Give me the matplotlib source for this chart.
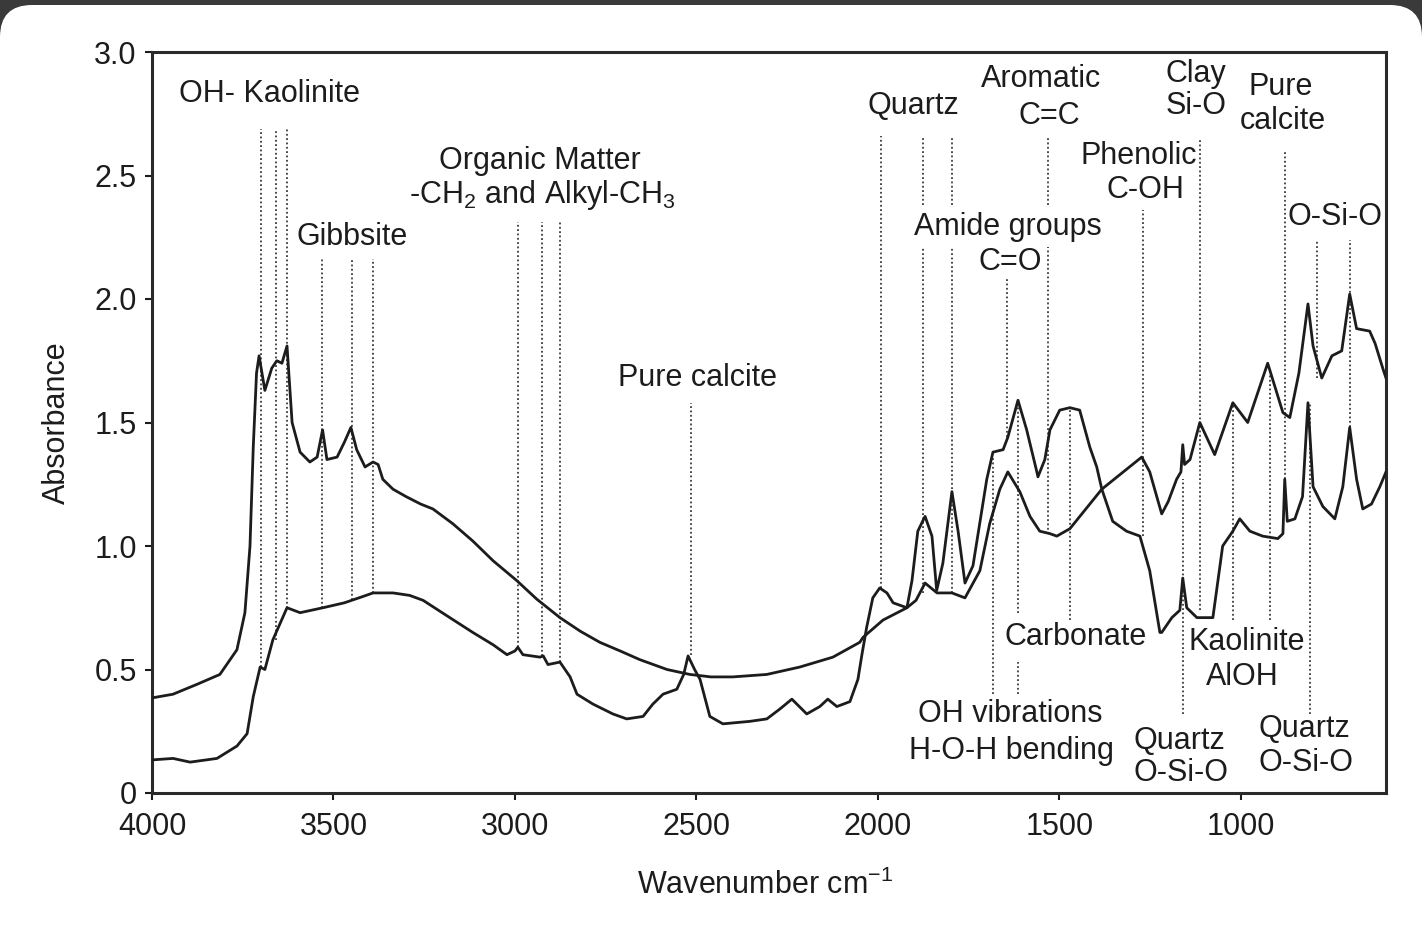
import matplotlib
matplotlib.use("Agg")
import matplotlib.pyplot as plt
from matplotlib.patches import FancyBboxPatch
from matplotlib.transforms import IdentityTransform

plt.rcParams['font.family'] = ['Liberation Sans', 'DejaVu Sans']
plt.rcParams['mathtext.fontset'] = 'custom'
plt.rcParams['mathtext.rm'] = 'Liberation Sans'
plt.rcParams['mathtext.it'] = 'Liberation Sans'
plt.rcParams['mathtext.bf'] = 'Liberation Sans'

# ---------------- data ----------------
wn_a = [4000, 3942, 3876, 3813, 3766, 3744, 3730, 3721, 3712, 3705, 3689, 3670, 3656, 3642,
        3628, 3614, 3592, 3565, 3545, 3530, 3518, 3490, 3470, 3452, 3436, 3413, 3391, 3377,
        3364, 3336, 3300, 3260, 3226, 3171, 3116, 3060, 2995, 2940, 2876, 2820, 2766, 2710,
        2656, 2581, 2518, 2460, 2400, 2306, 2215,
        2124, 2050, 2041, 1986, 1920, 1895, 1870, 1837, 1796, 1760, 1719, 1692, 1664, 1642,
        1609, 1581, 1554, 1526, 1507, 1471, 1383, 1273, 1251, 1218, 1200, 1177, 1165, 1160,
        1155, 1140, 1113, 1072, 1022, 981, 926, 884, 865, 840, 815, 801, 777, 749, 722, 700,
        681, 645, 630, 609, 600]
abs_a = [0.385, 0.40, 0.44, 0.48, 0.58, 0.73, 1.00, 1.40, 1.70, 1.77, 1.63, 1.72, 1.75, 1.74,
         1.81, 1.50, 1.38, 1.34, 1.36, 1.47, 1.35, 1.36, 1.42, 1.48, 1.39, 1.32, 1.34, 1.33,
         1.27, 1.23, 1.20, 1.17, 1.15, 1.09, 1.02, 0.94, 0.86, 0.785, 0.71, 0.655, 0.61, 0.575,
         0.54, 0.50, 0.48, 0.47, 0.47, 0.48, 0.51,
         0.55, 0.61, 0.63, 0.70, 0.75, 0.78, 0.85, 0.81, 0.81, 0.79, 0.90, 1.09, 1.23, 1.30,
         1.22, 1.12, 1.06, 1.05, 1.04, 1.07, 1.23, 1.36, 1.30, 1.13, 1.18, 1.27, 1.30, 1.41,
         1.33, 1.35, 1.50, 1.37, 1.58, 1.50, 1.74, 1.54, 1.52, 1.70, 1.98, 1.81, 1.68, 1.77,
         1.79, 2.02, 1.88, 1.87, 1.82, 1.72, 1.68]

wn_b = [4000, 3942, 3895, 3821, 3766, 3738, 3721, 3702, 3689, 3667, 3628, 3592, 3529, 3470,
        3420, 3391, 3336, 3290, 3253, 3190, 3116, 3060, 3022, 3000, 2992, 2978, 2931, 2922,
        2909, 2876, 2848, 2829,
        2785, 2730, 2692, 2647, 2620, 2592, 2554, 2535, 2523, 2505, 2490, 2463, 2427, 2353,
        2306, 2270, 2237, 2196, 2160, 2138, 2113, 2077, 2055, 2044, 2031, 2014, 1995, 1975,
        1958, 1920, 1906, 1890, 1870, 1851, 1838, 1821, 1796, 1779, 1760, 1738, 1700, 1683,
        1655, 1642, 1614, 1590, 1562, 1559, 1540, 1526, 1499, 1471, 1444, 1416, 1397, 1383,
        1353, 1315, 1278, 1251, 1223, 1218, 1190, 1168, 1160, 1149, 1121, 1077, 1050, 1022,
        1003, 975, 940, 898, 884, 879, 872, 851, 830, 815, 801, 774, 741, 719, 700, 681, 664,
        640, 617, 600]
abs_b = [0.134, 0.14, 0.125, 0.14, 0.19, 0.24, 0.39, 0.51, 0.50, 0.62, 0.75, 0.73, 0.75, 0.77,
         0.795, 0.81, 0.81, 0.80, 0.78, 0.72, 0.65, 0.60, 0.56, 0.575, 0.59, 0.56, 0.55, 0.555,
         0.52, 0.53, 0.47, 0.40,
         0.36, 0.32, 0.30, 0.31, 0.36, 0.40, 0.42, 0.48, 0.555, 0.50, 0.46, 0.31, 0.28, 0.29,
         0.30, 0.34, 0.38, 0.32, 0.35, 0.38, 0.35, 0.37, 0.46, 0.56, 0.67, 0.79, 0.83, 0.81,
         0.77, 0.75, 0.86, 1.06, 1.12, 1.04, 0.82, 0.93, 1.22, 1.06, 0.85, 0.92, 1.27, 1.38,
         1.39, 1.44, 1.59, 1.47, 1.30, 1.28, 1.35, 1.47, 1.55, 1.56, 1.55, 1.40, 1.32, 1.23,
         1.10, 1.06, 1.04, 0.90, 0.65, 0.65, 0.71, 0.74, 0.87, 0.75, 0.71, 0.71, 1.00, 1.06,
         1.11, 1.06, 1.04, 1.03, 1.05, 1.27, 1.10, 1.11, 1.20, 1.58, 1.24, 1.16, 1.11, 1.24,
         1.48, 1.27, 1.15, 1.17, 1.24, 1.30]

# band markers: wavenumber, list of (top, bottom) segments
band_wn = [3700, 3658, 3628, 3532, 3449, 3391, 2992, 2926, 2876, 2515, 1992, 1876, 1796,
           1532, 1645, 1683, 1614, 1471, 1270, 1113, 1160, 1022, 920, 879, 791, 700, 810]
band_seg = [[(2.69, 0.51)], [(2.69, 0.62)], [(2.69, 0.75)],
            [(2.16, 0.75)], [(2.16, 0.78)], [(2.16, 0.81)],
            [(2.31, 0.59)], [(2.31, 0.555)], [(2.31, 0.53)],
            [(1.58, 0.56)],
            [(2.66, 0.83)], [(2.66, 2.38), (2.21, 0.81)], [(2.66, 2.38), (2.21, 0.81)],
            [(2.65, 2.38), (2.21, 1.05)],
            [(2.09, 1.44)],
            [(1.36, 0.40)], [(1.59, 0.73), (0.53, 0.40)], [(1.56, 0.70)],
            [(2.36, 1.04)], [(2.65, 0.74)], [(1.27, 0.32)],
            [(1.58, 0.70)], [(1.70, 0.70)], [(2.60, 1.27)],
            [(2.24, 1.68)], [(2.24, 1.48)], [(1.58, 0.32)]]

label_text = ["OH- Kaolinite", "Gibbsite", "Organic Matter", "-CH$_2$ and Alkyl-CH$_3$",
              "Pure calcite", "Quartz", "Aromatic", "C=C", "Amide groups", "C=O",
              "Phenolic", "C-OH", "Clay", "Si-O", "Pure", "calcite", "O-Si-O",
              "Carbonate", "Kaolinite", "AlOH", "OH vibrations", "H-O-H bending",
              "Quartz", "O-Si-O", "Quartz", "O-Si-O"]
label_wn = [3675, 3449, 2931, 2923, 2496, 1901, 1551, 1529, 1642, 1636, 1281, 1264, 1124,
            1124, 890, 884, 741, 1455, 984, 997, 1636, 1631, 1168, 1165, 824, 821]
label_y = [2.83, 2.25, 2.56, 2.42, 1.68, 2.78, 2.89, 2.74, 2.29, 2.15, 2.58, 2.44, 2.91,
           2.78, 2.86, 2.72, 2.33, 0.63, 0.61, 0.47, 0.32, 0.17, 0.21, 0.08, 0.26, 0.12]

x_ticks = [4000, 3500, 3000, 2500, 2000, 1500, 1000]
y_ticks = [0, 0.5, 1.0, 1.5, 2.0, 2.5, 3.0]
y_ticklabels = ["0", "0.5", "1.0", "1.5", "2.0", "2.5", "3.0"]

# ---------------- figure ----------------
W, H = 1422, 931
fig = plt.figure(figsize=(W / 100, H / 100), dpi=100)
fig.patch.set_facecolor('#3a3a3a')
card = FancyBboxPatch((0, -60), W, H - 5 + 60, boxstyle="round,pad=0,rounding_size=32",
                      transform=IdentityTransform(), facecolor='white', edgecolor='none',
                      zorder=-10)
fig.patches.append(card)

ax = fig.add_axes([152 / W, 1 - 793 / H, (1386 - 152) / W, (793 - 52) / H])
ax.set_facecolor('white')

ink = '#1c1c1c'
fs = 22

for wn, segs in zip(band_wn, band_seg):
    for top, bot in segs:
        ax.plot([wn, wn], [bot, top], color='#3a3a3a', lw=1.3,
                linestyle=(0, (1, 1.4)), zorder=1)

ax.plot(wn_a, abs_a, color=ink, lw=2.0, zorder=3, solid_joinstyle='round')
ax.plot(wn_b, abs_b, color=ink, lw=2.0, zorder=3, solid_joinstyle='round')

for t, x, y in zip(label_text, label_wn, label_y):
    ax.text(x, y, t, ha='center', va='center', fontsize=fs, color=ink, zorder=4)

ax.set_xlim(4000, 600)
ax.set_ylim(0, 3.0)
ax.set_xticks(x_ticks)
ax.set_xticklabels([str(v) for v in x_ticks])
ax.set_yticks(y_ticks)
ax.set_yticklabels(y_ticklabels)
ax.tick_params(direction='out', length=5, width=1.5, colors=ink, labelsize=fs)
ax.tick_params(axis='x', pad=9)
ax.tick_params(axis='y', pad=6)

for s in ax.spines.values():
    s.set_linewidth(2.2)
    s.set_color('#2a2a2a')

ax.set_xlabel("Wavenumber cm$^{-1}$", fontsize=fs, color=ink)
ax.set_ylabel("Absorbance", fontsize=fs, color=ink)
ax.xaxis.set_label_coords((765 - 152) / 1234, (793 - 870) / 741)
ax.yaxis.set_label_coords((72 - 152) / 1234, 0.5)

fig.savefig("out.png", dpi=100, facecolor=fig.get_facecolor())
